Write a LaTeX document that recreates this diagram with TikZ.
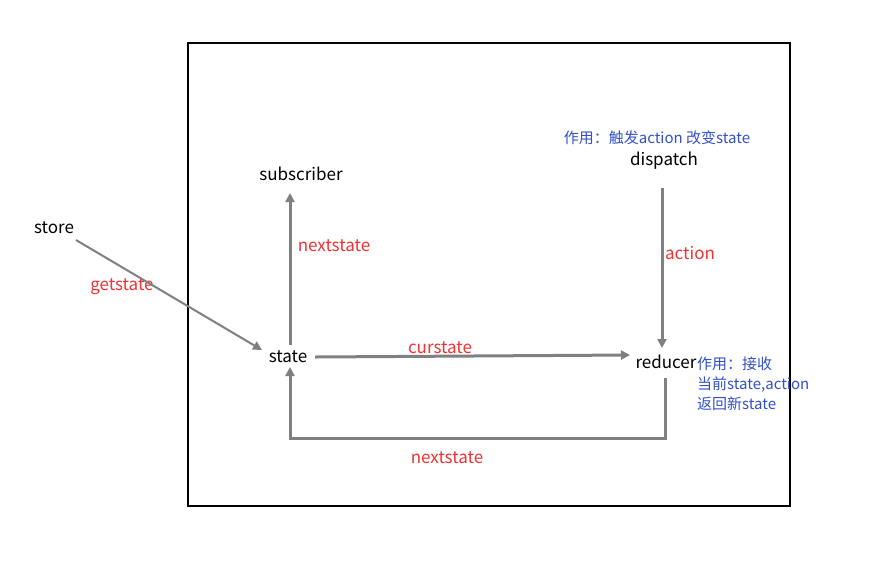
\documentclass[tikz,border=0pt]{standalone}
\usepackage{fontspec}
\setmainfont{Noto Sans CJK SC}
\usetikzlibrary{arrows.meta}
\definecolor{lred}{RGB}{240,50,50}
\definecolor{lblue}{RGB}{50,80,200}
\definecolor{lgray}{RGB}{128,128,128}
\tikzset{
  blk/.style={font=\fontsize{17}{19}\selectfont, inner sep=0pt},
  rl/.style={font=\fontsize{17}{19}\selectfont, text=lred, inner sep=0pt},
  bl/.style={font=\fontsize{15}{20}\selectfont, text=lblue, inner sep=0pt},
  conn/.style={draw=lgray, line width=3pt, -{Triangle[length=9pt,width=9pt]}},
}
\begin{document}
\begin{tikzpicture}[x=1pt,y=-1pt]
\useasboundingbox (0,0) rectangle (875,566);
\draw[line width=2.5pt] (188,43) rectangle (790,506);
\node[blk] (store) at (54,228) {store};
\node[blk] (state) at (288,357) {state};
\node[blk] (sub) at (301,174) {subscriber};
\node[blk] (red) at (666,362) {reducer};
\node[blk] (disp) at (664,161) {dispatch};
\node[bl] (dl) at (657,138) {作用：触发action 改变state};
\node[bl, anchor=west, align=left] (rl) at (697,384) {作用：接收\\当前state,action\\返回新state};
\node[rl] (gs) at (122,287) {getstate};
\node[rl] (ns1) at (334,246) {nextstate};
\node[rl] (cs) at (440,348) {curstate};
\node[rl] (ac) at (690,253) {action};
\node[rl] (ns2) at (447,458) {nextstate};
\coordinate (a1) at (76,240);
\coordinate (a2) at (262,350);
\draw[conn, line width=2pt] (a1) -- (a2);
\draw[conn] (290,345) -- (290,193);
\draw[conn] (315,357) -- (630,355);
\draw[conn] (662,188) -- (662,348);
\draw[conn] (665,378) -- (665,438) -- (290,438) -- (290,367);
\end{tikzpicture}
\end{document}
